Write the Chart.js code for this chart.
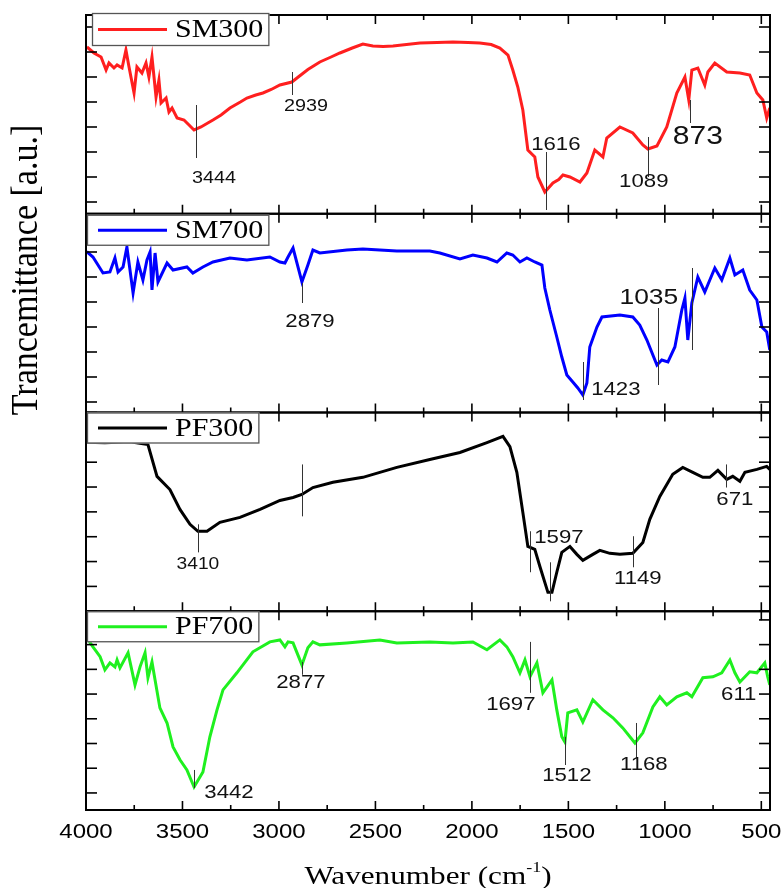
<!DOCTYPE html>
<html>
<head>
<meta charset="utf-8">
<script src="https://cdn.jsdelivr.net/npm/chart.js@4.4.0/dist/chart.umd.min.js"></script>
<style>
  html, body { margin: 0; padding: 0; background: #fff; }
  #wrap { position: relative; width: 783px; height: 888px; }
</style>
</head>
<body>
<div id="wrap"><canvas id="ftir" width="783" height="888"></canvas></div>
<script>
// spectra: [wavenumber, transmittance in tick units]
const sm300 = [[3995,6.2],[3959,5.96],[3922,5.8],[3896,5.28],[3881,5.56],[3855,5.36],[3839,5.48],[3813,5.36],[3793,6.08],[3777,5.4],[3751,4.36],[3736,5.4],[3710,5.16],[3689,5.56],[3674,5.0],[3658,5.8],[3637,4.2],[3622,4.88],[3611,3.96],[3585,4.16],[3570,3.6],[3554,3.76],[3528,3.36],[3492,3.28],[3440,2.88],[3404,3.0],[3342,3.28],[3300,3.48],[3254,3.76],[3200,4.0],[3166,4.16],[3120,4.28],[3083,4.36],[3040,4.5],[2995,4.68],[2933,4.8],[2900,5.0],[2850,5.3],[2788,5.6],[2730,5.8],[2684,5.96],[2620,6.16],[2565,6.32],[2513,6.24],[2460,6.22],[2409,6.24],[2269,6.36],[2180,6.38],[2098,6.4],[2020,6.38],[1959,6.36],[1900,6.3],[1855,6.16],[1813,5.88],[1788,5.28],[1762,4.6],[1736,3.68],[1710,2.08],[1674,1.8],[1658,1.0],[1622,0.4],[1580,0.76],[1550,0.9],[1528,1.08],[1492,1.0],[1440,0.8],[1404,1.16],[1363,2.08],[1321,1.8],[1301,2.56],[1233,3.0],[1166,2.76],[1114,2.28],[1088,2.12],[1041,2.24],[990,3.0],[938,4.36],[896,5.0],[876,4.08],[860,5.28],[829,5.36],[793,4.68],[777,5.2],[741,5.56],[679,5.2],[611,5.16],[560,5.08],[523,4.36],[492,4.08],[472,3.36],[456,3.76]];

const sm700 = [[3996,6.01],[3964,5.8],[3912,5.16],[3876,5.2],[3850,5.76],[3834,5.2],[3808,5.4],[3788,6.2],[3756,4.36],[3731,5.6],[3705,4.88],[3684,5.68],[3668,6.0],[3658,4.48],[3642,5.96],[3627,4.8],[3580,5.56],[3549,5.28],[3477,5.4],[3446,5.16],[3394,5.4],[3342,5.6],[3254,5.76],[3166,5.68],[3047,5.8],[2995,5.6],[2969,5.56],[2953,5.8],[2927,6.16],[2881,4.8],[2850,5.48],[2824,6.08],[2788,5.96],[2648,6.08],[2565,6.12],[2477,6.08],[2389,6.04],[2218,6.04],[2166,5.96],[2062,5.72],[1995,5.88],[1922,5.76],[1870,5.6],[1819,5.96],[1788,5.88],[1751,5.6],[1715,5.76],[1674,5.6],[1637,5.48],[1622,4.56],[1596,3.68],[1560,2.6],[1534,1.8],[1508,1.08],[1477,0.8],[1451,0.56],[1425,0.28],[1404,0.76],[1389,2.2],[1352,3.0],[1326,3.4],[1233,3.48],[1166,3.4],[1130,3.08],[1093,2.48],[1062,1.88],[1041,1.48],[1016,1.68],[984,1.6],[948,2.2],[912,3.68],[896,4.16],[881,2.48],[860,3.96],[829,5.0],[793,4.4],[741,5.36],[705,4.88],[663,5.76],[637,5.08],[596,5.28],[560,4.48],[523,4.08],[497,3.0],[472,2.8],[456,2.08]];

const pf300 = [[4000,6.8],[3902,6.78],[3772,6.82],[3679,6.71],[3632,5.43],[3565,4.9],[3513,4.1],[3461,3.5],[3420,3.22],[3373,3.22],[3306,3.58],[3202,3.78],[3098,4.1],[2995,4.46],[2927,4.58],[2881,4.7],[2824,4.98],[2720,5.19],[2565,5.39],[2389,5.79],[2218,6.11],[2062,6.39],[1922,6.79],[1839,7.04],[1803,6.63],[1767,5.59],[1736,3.98],[1710,2.61],[1674,2.49],[1648,1.81],[1606,0.76],[1585,0.76],[1560,1.57],[1534,2.37],[1492,2.61],[1456,2.29],[1425,2.05],[1373,2.29],[1337,2.45],[1285,2.33],[1233,2.29],[1166,2.33],[1114,2.77],[1078,3.7],[1026,4.62],[959,5.51],[907,5.79],[855,5.59],[803,5.39],[767,5.39],[725,5.67],[679,5.31],[648,5.43],[611,5.23],[585,5.59],[523,5.71],[472,5.83],[456,5.71]];

const pf700 = [[3996,6.28],[3964,5.91],[3927,5.51],[3902,4.98],[3876,5.26],[3850,5.10],[3839,5.38],[3824,5.06],[3782,5.67],[3746,4.37],[3720,5.10],[3694,5.67],[3679,4.66],[3658,5.30],[3642,4.57],[3617,3.44],[3580,2.83],[3549,1.86],[3513,1.34],[3477,0.93],[3440,0.24],[3394,0.85],[3358,2.27],[3321,3.36],[3290,4.17],[3218,4.86],[3135,5.71],[3047,6.11],[2995,6.19],[2969,5.91],[2953,6.11],[2927,6.07],[2881,5.18],[2850,5.87],[2824,6.11],[2788,5.99],[2648,6.07],[2477,6.19],[2389,6.07],[2218,6.11],[2098,6.07],[1995,6.11],[1922,5.79],[1855,6.19],[1819,5.91],[1788,5.51],[1751,4.86],[1725,5.38],[1699,4.70],[1663,5.26],[1632,4.05],[1585,4.57],[1560,3.36],[1534,2.27],[1518,2.06],[1503,3.24],[1456,3.36],[1425,2.87],[1373,3.77],[1321,3.36],[1269,3.04],[1218,2.63],[1155,2.02],[1114,2.43],[1062,3.48],[1026,3.89],[990,3.56],[938,3.89],[886,4.05],[860,3.89],[803,4.66],[751,4.70],[705,4.86],[663,5.38],[637,4.86],[611,4.49],[560,4.90],[523,4.86],[482,5.26],[467,4.70],[456,4.37]];

const sampleNames = ['SM300', 'SM700', 'PF300', 'PF700'];
const xTickValues = [4000, 3500, 3000, 2500, 2000, 1500, 1000, 500];
const xTickLabels = ['4000', '3500', '3000', '2500', '2000', '1500', '1000', '500'];
const xMinorValues = [3750, 3250, 2750, 2250, 1750, 1250, 750];
const yTickValues = [[0,1,2,3,4,5,6,7], [0,1,2,3,4,5,6,7], [0,1,2,3,4,5,6,7,8], [0,1,2,3,4,5,6,7]];

// peak marks: text, marker wavenumber, marker from/to, label wavenumber, label level
const sm300Peaks = [['3444',3430,1.76,3.88,3337,0.96],['2939',2933,4.28,5.2,2860,3.84],['1616',1617,-0.32,2.0,1565,2.28],['1089',1088,1.0,2.6,1109,0.8],['873',870,3.16,4.08,829,2.6]];
const sm700Peaks = [['2879',2881,3.96,4.76,2839,3.2],['1423',1425,0.08,1.6,1254,0.48],['1035',1036,0.68,3.76,1083,4.16],['',860,2.08,5.36,0,0]];
const pf300Peaks = [['3410',3420,2.37,3.5,3420,1.89],['',2881,3.82,5.91,0,0],['1597',1699,1.57,3.22,1549,2.97],['',1596,0.4,1.97,0,0],['1149',1166,1.77,3.02,1140,1.29],['671',684,4.98,5.91,637,4.5]];
const pf700Peaks = [['2877',2881,4.78,5.3,2886,4.45],['3442',3440,0.2,0.93,3259,0.0],['1697',1699,4.05,6.11,1798,3.56],['1512',1518,1.13,2.27,1508,0.69],['1168',1150,1.42,2.83,1109,1.13],['611',0,0,0,617,3.97]];

const series = [sm300, sm700, pf300, pf700];
const peaks = [sm300Peaks, sm700Peaks, pf300Peaks, pf700Peaks];
const colors = ['#ff1f1f', '#0000ff', '#000000', '#1ff01f'];
const yRanges = [[-0.47, 7.48], [-0.42, 7.53], [0, 8], [-0.69, 7.35]];
const peakFont = { '873': 25, '1035': 22, '3444': 16.5, '2939': 16.5, '3410': 16 };
const legendInset = [[6, -2, 33], [1, 1, 31], [1, 0, 31], [1, 0, 31]];
const SX = 1.2; // horizontal stretch of the original figure

function line(ctx, x1, y1, x2, y2) {
  ctx.beginPath(); ctx.moveTo(x1, y1); ctx.lineTo(x2, y2); ctx.stroke();
}
function wideText(ctx, text, x, y, font, align) {
  ctx.save();
  ctx.translate(x, y);
  ctx.scale(SX, 1);
  ctx.font = font;
  ctx.textAlign = align || 'center';
  ctx.textBaseline = 'middle';
  ctx.fillText(text, 0, 0);
  ctx.restore();
}

const panelPlugin = {
  id: 'panels',
  afterDatasetsDraw(chart) {
    const ctx = chart.ctx;
    const xs = chart.scales.x;
    const area = chart.chartArea;
    ctx.save();
    sampleNames.forEach((name, i) => {
      const ys = chart.scales['y' + i];
      const top = ys.top, bottom = ys.bottom;

      // peak markers and numbers
      ctx.strokeStyle = '#333';
      ctx.lineWidth = 1;
      ctx.fillStyle = '#111';
      peaks[i].forEach(([text, at, from, to, tx, ty]) => {
        if (at) {
          const px = Math.round(xs.getPixelForValue(at)) + 0.5;
          line(ctx, px, ys.getPixelForValue(from), px, ys.getPixelForValue(to));
        }
        if (text) {
          const size = peakFont[text] || 18.5;
          wideText(ctx, text, xs.getPixelForValue(tx), ys.getPixelForValue(ty), size + 'px "Liberation Sans", Arial, sans-serif');
        }
      });

      // frame
      ctx.strokeStyle = '#000';
      ctx.lineWidth = 2;
      ctx.strokeRect(area.left, top, area.right - area.left, bottom - top);

      // x ticks, inward on both edges of every panel
      ctx.lineWidth = 1.6;
      xTickValues.concat(xMinorValues).forEach(v => {
        const px = xs.getPixelForValue(v);
        const len = xTickValues.includes(v) ? 9 : 5;
        line(ctx, px, top, px, top + len);
        line(ctx, px, bottom, px, bottom - len);
      });
      // y ticks, inward on both sides
      yTickValues[i].forEach(v => {
        const py = ys.getPixelForValue(v);
        line(ctx, area.left, py, area.left + 11, py);
        line(ctx, area.right - 11, py, area.right, py);
      });

      // legend box
      const [dx, dy, h] = legendInset[i];
      const labelFont = '25px "Liberation Serif", "Times New Roman", serif';
      ctx.font = labelFont;
      const tw = ctx.measureText(name).width * SX;
      const bx = area.left + dx, by = top + dy;
      const bw = (area.left + 89 + tw + 6) - bx;
      ctx.fillStyle = '#fff';
      ctx.fillRect(bx, by, bw, h);
      ctx.strokeStyle = '#555';
      ctx.lineWidth = 1.3;
      ctx.strokeRect(bx + 0.5, by + 0.5, bw - 1, h - 1);
      ctx.strokeStyle = colors[i];
      ctx.lineWidth = 3;
      line(ctx, area.left + 12, by + h / 2, area.left + 81, by + h / 2);
      ctx.fillStyle = '#000';
      wideText(ctx, name, area.left + 89, by + h / 2 + 1, labelFont, 'left');
    });

    // x tick labels under the last panel
    ctx.fillStyle = '#000';
    const base = chart.scales.y3.bottom;
    xTickValues.forEach((v, k) => {
      wideText(ctx, xTickLabels[k], xs.getPixelForValue(v), base + 22, '20px "Liberation Sans", Arial, sans-serif');
    });

    // axis titles
    const serif = '"Liberation Serif", "Times New Roman", serif';
    const main = 'Wavenumber (cm';
    ctx.font = '26px ' + serif;
    const w1 = ctx.measureText(main).width * SX;
    ctx.font = '15px ' + serif;
    const w2 = ctx.measureText('-1').width * SX;
    ctx.font = '26px ' + serif;
    const w3 = ctx.measureText(')').width * SX;
    let x0 = (area.left + area.right) / 2 - (w1 + w2 + w3) / 2;
    wideText(ctx, main, x0, base + 67, '26px ' + serif, 'left');
    wideText(ctx, '-1', x0 + w1, base + 58, '15px ' + serif, 'left');
    wideText(ctx, ')', x0 + w1 + w2, base + 67, '26px ' + serif, 'left');

    ctx.save();
    ctx.translate(27, 270);
    ctx.rotate(-Math.PI / 2);
    ctx.scale(1, 1.1);
    ctx.font = '34px ' + serif;
    ctx.textAlign = 'center';
    ctx.textBaseline = 'middle';
    ctx.fillText('Trancemittance [a.u.]', 0, 0);
    ctx.restore();

    ctx.restore();
  }
};

const yScales = {};
sampleNames.forEach((name, i) => {
  yScales['y' + i] = {
    type: 'linear',
    position: 'left',
    stack: 'ir',
    stackWeight: 1,
    weight: 4 - i,
    min: yRanges[i][0],
    max: yRanges[i][1],
    display: false
  };
});

new Chart(document.getElementById('ftir'), {
  type: 'line',
  data: {
    datasets: series.map((s, i) => ({
      label: sampleNames[i],
      data: s.map(([x, y]) => ({ x, y })),
      yAxisID: 'y' + i,
      borderColor: colors[i],
      borderWidth: 3,
      pointRadius: 0,
      tension: 0
    }))
  },
  options: {
    responsive: false,
    animation: false,
    devicePixelRatio: 1,
    layout: { padding: { left: 86, right: 13, top: 15, bottom: 78 } },
    plugins: { legend: { display: false }, tooltip: { enabled: false } },
    scales: Object.assign({
      x: { type: 'linear', reverse: true, min: 455, max: 4000, display: false }
    }, yScales)
  },
  plugins: [panelPlugin]
});
</script>
</body>
</html>
